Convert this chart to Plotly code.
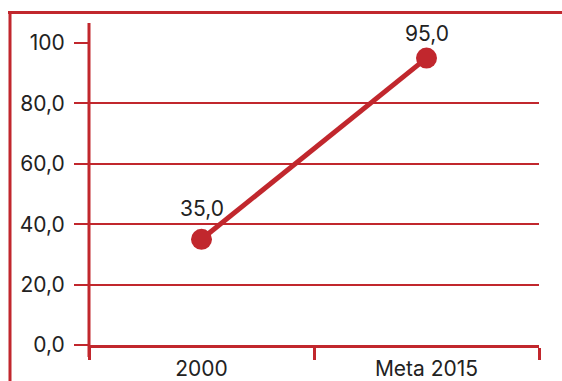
import plotly.graph_objects as go

categories = ["2000", "Meta 2015"]
values = [35.0, 95.0]
value_labels = ["35,0", "95,0"]
y_tickvals = [0, 20, 40, 60, 80, 100]
y_ticktext = ["0,0", "20,0", "40,0", "60,0", "80,0", "100"]

RED = "#C1272D"
TXT = "#222222"
FONT = "Inter, Liberation Sans, Arial, sans-serif"

label_shift = [31, 25]
label_bg = ["rgba(0,0,0,0)", "white"]

fig = go.Figure()
fig.add_trace(go.Scatter(
    x=categories, y=values, mode="lines+markers",
    line=dict(color=RED, width=5),
    marker=dict(color=RED, size=21),
    hoverinfo="skip", cliponaxis=False,
))

for i, (v, t) in enumerate(zip(values, value_labels)):
    fig.add_annotation(x=i, y=v, xref="x", yref="y", text=t, showarrow=False,
                       yshift=label_shift[i], bgcolor=label_bg[i], borderpad=0,
                       font=dict(family=FONT, size=21, color=TXT))

W, H = 562, 381
L, R, T, B = 89, 23, 43, 36
pw, ph = W - L - R, H - T - B

def px(x):
    return (x - L) / pw

def py(y):
    return (H - B - y) / ph

shapes = [
    # outer frame (top and left)
    dict(type="line", xref="paper", yref="paper", x0=px(8), x1=px(562), y0=py(12.5), y1=py(12.5),
         line=dict(color=RED, width=3)),
    dict(type="line", xref="paper", yref="paper", x0=px(10), x1=px(10), y0=py(11), y1=py(385),
         line=dict(color=RED, width=3)),
    # y-axis line extended
    dict(type="line", xref="paper", yref="paper", x0=0, x1=0, y0=py(23), y1=py(357),
         line=dict(color=RED, width=3)),
]

fig.update_layout(
    width=W, height=H,
    margin=dict(l=L, r=R, t=T, b=B, autoexpand=False),
    paper_bgcolor="white", plot_bgcolor="white",
    showlegend=False,
    shapes=shapes,
    font=dict(family=FONT, size=21, color=TXT),
    xaxis=dict(
        type="category", range=[-0.5, 1.5], automargin=False,
        showgrid=False, zeroline=False,
        showline=True, linecolor=RED, linewidth=3,
        ticks="outside", tickson="boundaries", ticklen=12, tickwidth=3, tickcolor=RED,
        ticklabelstandoff=3,
        tickfont=dict(family=FONT, size=21, color=TXT),
        fixedrange=True,
    ),
    yaxis=dict(
        range=[0, 100], tickvals=y_tickvals, ticktext=y_ticktext, automargin=False,
        showgrid=True, gridcolor=RED, gridwidth=2,
        zeroline=False, showline=False,
        ticks="outside", ticklen=14, tickwidth=2, tickcolor=RED,
        ticklabelstandoff=5,
        tickfont=dict(family=FONT, size=21, color=TXT),
        fixedrange=True,
    ),
)

fig.write_html("out.html")
